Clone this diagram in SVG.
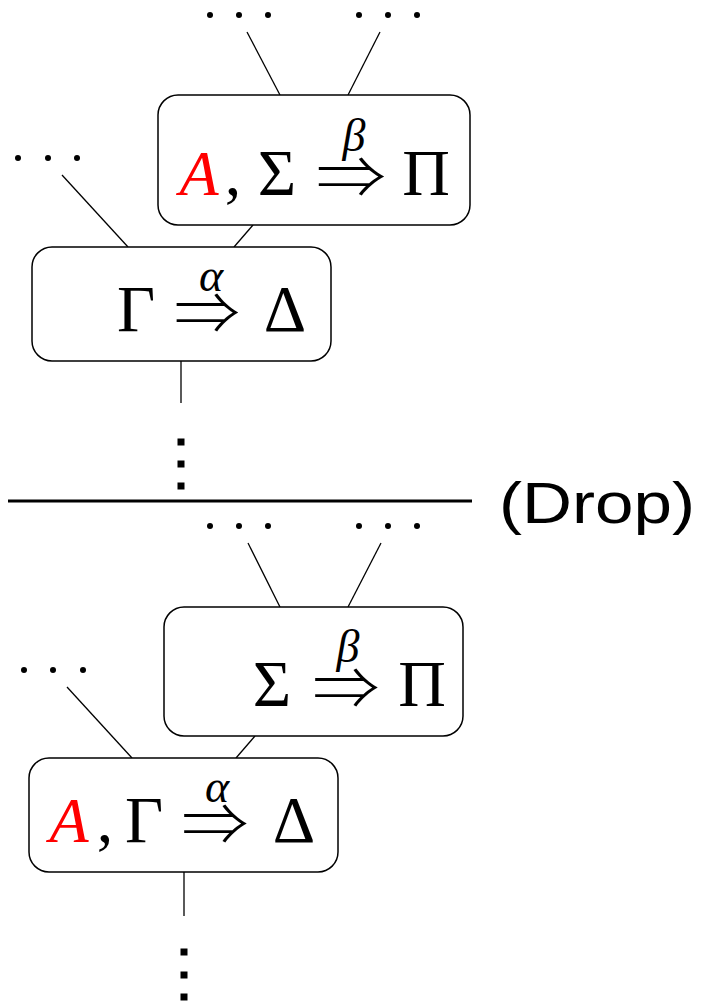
<svg xmlns="http://www.w3.org/2000/svg" width="701" height="1002" viewBox="0 0 701 1002">
  <style>
    .box { fill: #ffffff; stroke: #000000; stroke-width: 1.5; }
    .edge { stroke: #000000; stroke-width: 1.3; fill: none; }
    .dot { fill: #000000; }
    .vdot { fill: #000000; }
    .m { font-family: "Liberation Serif", "DejaVu Serif", serif; font-size: 66px; fill: #000000; text-anchor: middle; }
    .mi { font-family: "Liberation Serif", "DejaVu Serif", serif; font-style: italic; font-size: 64px; text-anchor: middle; }
    .sup { font-family: "Liberation Serif", "DejaVu Serif", serif; font-style: italic; font-size: 46px; fill: #000000; text-anchor: middle; }
    .arr { font-family: "Noto Sans CJK SC", "DejaVu Sans", sans-serif; font-weight: 300; font-size: 58px; fill: #000000; text-anchor: middle; }
    .red { fill: #ff0000; }
    .rule { font-family: "Liberation Sans", Arial, sans-serif; font-size: 57px; fill: #000000; }
  </style>

  <!-- connectors between sequents -->
  <g id="connectors">
    <line class="edge" x1="247" y1="32" x2="280" y2="95"/>
    <line class="edge" x1="380" y1="32" x2="348" y2="95"/>
    <line class="edge" x1="62" y1="175" x2="128" y2="247"/>
    <line class="edge" x1="253" y1="225" x2="234" y2="247"/>
    <line class="edge" x1="181" y1="361" x2="181" y2="403"/>

    <line class="edge" x1="248" y1="543" x2="280" y2="607"/>
    <line class="edge" x1="381" y1="543" x2="348" y2="607"/>
    <line class="edge" x1="67" y1="687" x2="132" y2="758"/>
    <line class="edge" x1="255" y1="736" x2="236" y2="758"/>
    <line class="edge" x1="184" y1="872" x2="184" y2="916"/>
  </g>

  <!-- elided branches -->
  <g id="ellipses">
    <circle class="dot" cx="210" cy="15" r="3"/>
    <circle class="dot" cx="239" cy="15" r="3"/>
    <circle class="dot" cx="268" cy="15" r="3"/>
    <circle class="dot" cx="359" cy="15" r="3"/>
    <circle class="dot" cx="388" cy="15" r="3"/>
    <circle class="dot" cx="417" cy="15" r="3"/>
    <circle class="dot" cx="18" cy="158" r="3"/>
    <circle class="dot" cx="48" cy="158" r="3"/>
    <circle class="dot" cx="77" cy="158" r="3"/>
    <rect class="vdot" x="177.5" y="438.5" width="7" height="7"/>
    <rect class="vdot" x="177.5" y="460.5" width="7" height="7"/>
    <rect class="vdot" x="177.5" y="482.5" width="7" height="7"/>

    <circle class="dot" cx="210" cy="526" r="3"/>
    <circle class="dot" cx="239" cy="526" r="3"/>
    <circle class="dot" cx="268" cy="526" r="3"/>
    <circle class="dot" cx="359" cy="526" r="3"/>
    <circle class="dot" cx="388" cy="526" r="3"/>
    <circle class="dot" cx="417" cy="526" r="3"/>
    <circle class="dot" cx="24" cy="670" r="3"/>
    <circle class="dot" cx="53" cy="670" r="3"/>
    <circle class="dot" cx="83" cy="670" r="3"/>
    <rect class="vdot" x="180.5" y="948.5" width="7" height="7"/>
    <rect class="vdot" x="180.5" y="971.5" width="7" height="7"/>
    <rect class="vdot" x="180.5" y="993.5" width="7" height="7"/>
  </g>

  <!-- upper derivation -->
  <g id="node-a-sigma-pi">
    <rect class="box" x="158" y="95" width="312" height="130" rx="20" ry="20"/>
    <text class="mi red" x="199" y="195">A</text>
    <text class="m" x="233" y="195">,</text>
    <text class="m" x="277" y="195">Σ</text>
    <text class="arr" x="351" y="198" textLength="70" lengthAdjust="spacingAndGlyphs">⇒</text>
    <text class="sup" x="354" y="151">β</text>
    <text class="m" x="426" y="195">Π</text>
  </g>

  <g id="node-gamma-delta">
    <rect class="box" x="32" y="247" width="299" height="114" rx="20" ry="20"/>
    <text class="m" x="136" y="331">Γ</text>
    <text class="arr" x="207" y="334" textLength="66" lengthAdjust="spacingAndGlyphs">⇒</text>
    <text class="sup" x="211" y="291">α</text>
    <text class="m" x="285" y="331">Δ</text>
  </g>

  <!-- rule separator -->
  <g id="rule">
    <line x1="8" y1="501" x2="472" y2="501" stroke="#000000" stroke-width="3"/>
    <text class="rule" x="499" y="523" textLength="196" lengthAdjust="spacingAndGlyphs">(Drop)</text>
  </g>

  <!-- lower derivation -->
  <g id="node-sigma-pi">
    <rect class="box" x="164" y="607" width="299" height="129" rx="20" ry="20"/>
    <text class="m" x="272" y="706">Σ</text>
    <text class="arr" x="346" y="709" textLength="67" lengthAdjust="spacingAndGlyphs">⇒</text>
    <text class="sup" x="348" y="662">β</text>
    <text class="m" x="422" y="706">Π</text>
  </g>

  <g id="node-a-gamma-delta">
    <rect class="box" x="29" y="758" width="309" height="114" rx="20" ry="20"/>
    <text class="mi red" x="69" y="842">A</text>
    <text class="m" x="105" y="842">,</text>
    <text class="m" x="144" y="842">Γ</text>
    <text class="arr" x="215" y="845" textLength="67" lengthAdjust="spacingAndGlyphs">⇒</text>
    <text class="sup" x="217" y="802">α</text>
    <text class="m" x="294" y="842">Δ</text>
  </g>
</svg>
